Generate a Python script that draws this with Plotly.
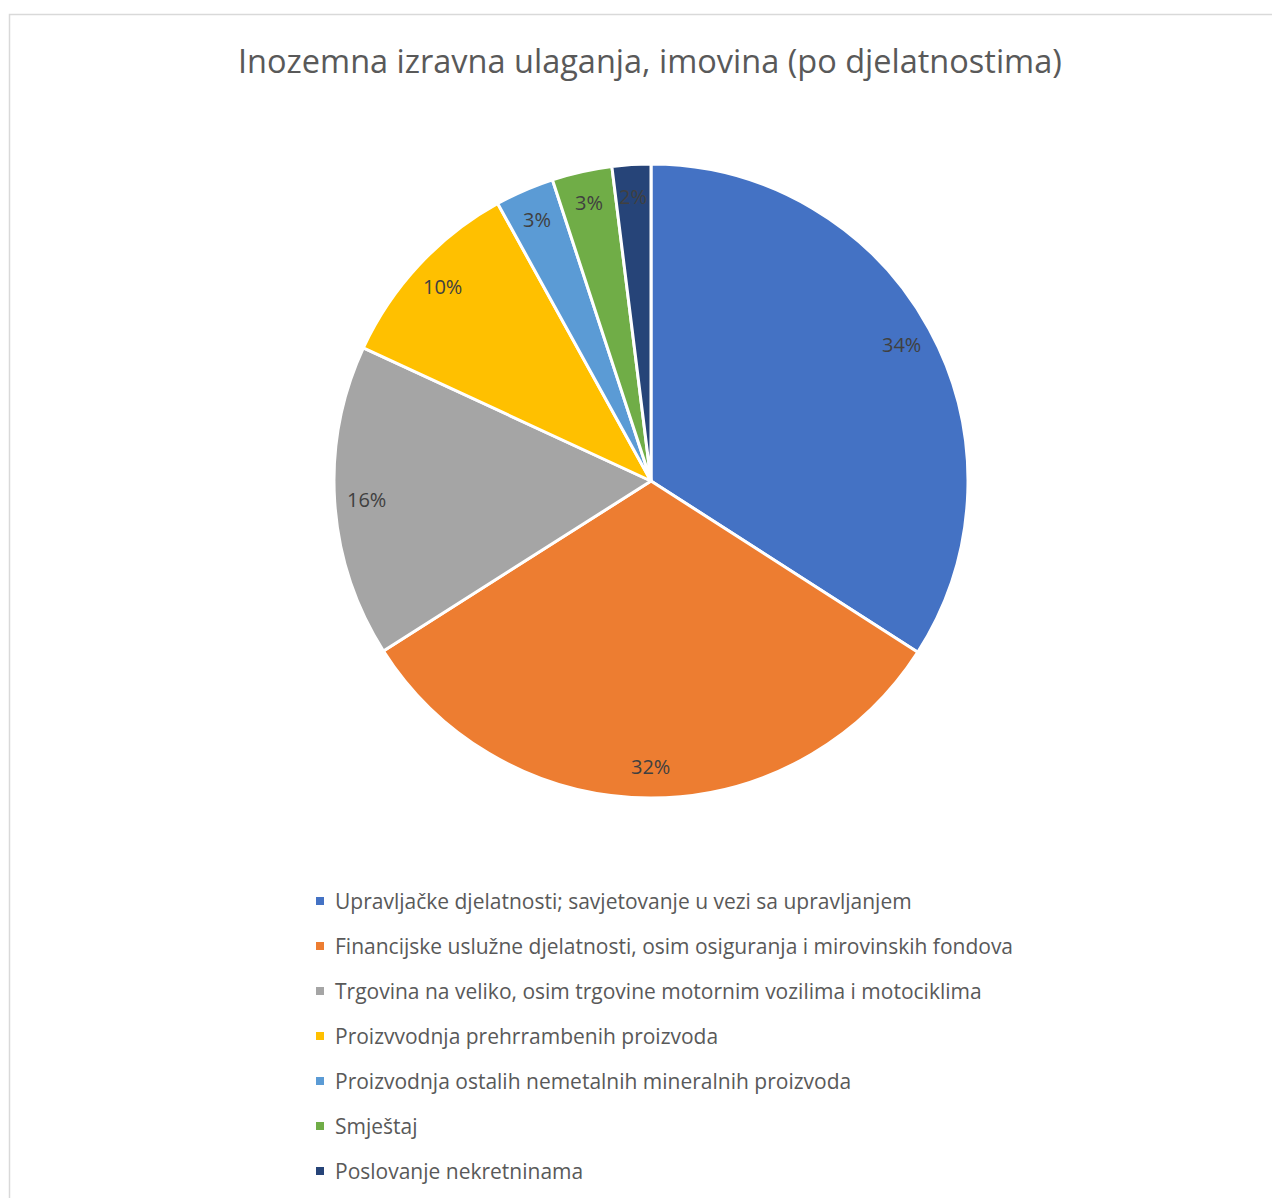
import math
import plotly.graph_objects as go

W, H = 1280, 1198
OFF = 8  # page body margin offset in the browser

categories = [
    "Upravljačke djelatnosti; savjetovanje u vezi sa upravljanjem",
    "Financijske uslužne djelatnosti, osim osiguranja i mirovinskih fondova",
    "Trgovina na veliko, osim trgovine motornim vozilima i motociklima",
    "Proizvvodnja prehrrambenih proizvoda",
    "Proizvodnja ostalih nemetalnih mineralnih proizvoda",
    "Smještaj",
    "Poslovanje nekretninama",
]
values = [34.06, 31.9, 15.9, 10.06, 3.0, 3.06, 1.97]
colors = ["#4472C4", "#ED7D31", "#A5A5A5", "#FFC000", "#5B9BD5", "#70AD47", "#264478"]
title_text = "Inozemna izravna ulaganja, imovina (po djelatnostima)"


def px_x(x):
    return (x - OFF) / W


def px_y(y):
    return 1 - (y - OFF) / H


# pie geometry (pixels, in screenshot coordinates)
cx, cy, R = 651, 481, 317
dom_x = [px_x(cx - R), px_x(cx + R)]
dom_y = [px_y(cy + R), px_y(cy - R)]

fig = go.Figure()
fig.add_trace(go.Pie(
    labels=categories,
    values=values,
    sort=False,
    direction="clockwise",
    rotation=0,
    marker=dict(colors=colors, line=dict(color="white", width=3)),
    textinfo="none",
    hoverinfo="label+percent",
    showlegend=False,
    domain=dict(x=dom_x, y=dom_y),
))

annotations = []
shapes = []

# percentage labels at 0.9 R along each slice's mid-angle
total = sum(values)
cum = 0.0
for v in values:
    mid = (cum + v / 2) / total * 2 * math.pi
    cum += v
    lx = cx + 0.9 * R * math.sin(mid)
    ly = cy - 0.9 * R * math.cos(mid)
    annotations.append(dict(
        x=px_x(lx), y=px_y(ly), xref="paper", yref="paper",
        text=f"{round(v / total * 100)}%", showarrow=False,
        font=dict(family="Open Sans", size=20, color="#404040"),
        xanchor="center", yanchor="middle",
    ))

# title
annotations.append(dict(
    x=px_x(650), y=px_y(60), xref="paper", yref="paper",
    text=title_text, showarrow=False,
    font=dict(family="Open Sans", size=32.5, color="#595959"),
    xanchor="center", yanchor="middle",
))

# legend
leg_x_sq, leg_x_txt, leg_y0, leg_dy, sq = 316, 333, 901, 45, 8
for i, (lab, col) in enumerate(zip(categories, colors)):
    yy = leg_y0 + i * leg_dy
    shapes.append(dict(
        type="rect", xref="paper", yref="paper",
        x0=px_x(leg_x_sq), x1=px_x(leg_x_sq + sq),
        y0=px_y(yy + sq / 2), y1=px_y(yy - sq / 2),
        fillcolor=col, line=dict(width=0),
    ))
    annotations.append(dict(
        x=px_x(leg_x_txt), y=px_y(yy), xref="paper", yref="paper",
        text=lab, showarrow=False,
        font=dict(family="Open Sans", size=21, color="#595959"),
        xanchor="left", yanchor="middle",
    ))

# chart frame
shapes.append(dict(
    type="rect", xref="paper", yref="paper",
    x0=px_x(9.5), x1=1.05, y0=-0.05, y1=px_y(14.5),
    line=dict(color="#D9D9D9", width=1.5), fillcolor="rgba(0,0,0,0)",
))

fig.update_layout(
    width=W, height=H,
    margin=dict(l=0, r=0, t=0, b=0),
    paper_bgcolor="white", plot_bgcolor="white",
    annotations=annotations, shapes=shapes,
    showlegend=False,
)

fig.write_html("out.html")
